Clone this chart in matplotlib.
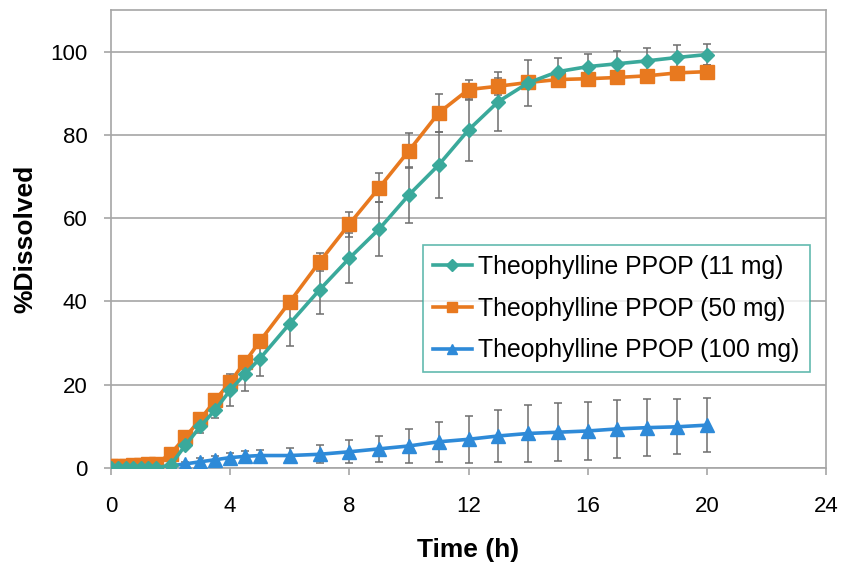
import matplotlib
matplotlib.use("Agg")
import matplotlib.pyplot as plt
from matplotlib.lines import Line2D

# sampling times (h)
time_h = [0, 0.25, 0.5, 0.75, 1, 1.25, 1.5, 2, 2.5, 3, 3.5, 4, 4.5, 5,
          6, 7, 8, 9, 10, 11, 12, 13, 14, 15, 16, 17, 18, 19, 20]

# 11 mg
teal_mean = [0, 0, 0, 0, 0, 0, 0, 0.7, 5.5, 10, 14, 18.7, 22.6, 26.3,
             34.7, 42.8, 50.4, 57.4, 65.6, 72.8, 81.2, 88, 92.5, 95.2,
             96.4, 97.1, 97.8, 98.6, 99.3]
teal_sd = [0, 0, 0, 0, 0, 0, 0, 0.5, 1, 1.5, 2, 3.8, 4, 4.3,
           5.3, 5.8, 6, 6.5, 6.8, 8, 7.5, 7, 5.6, 3.3,
           3, 3, 3, 3.1, 2.6]

# 50 mg
orange_mean = [0.6, 0.6, 0.6, 0.7, 0.8, 0.9, 1.0, 3.4, 7.5, 11.7, 16.3, 20.7, 25.5, 30.5,
               39.9, 49.5, 58.6, 67.3, 76.2, 85.3, 90.9, 91.7, 92.6, 93.3,
               93.5, 93.8, 94.2, 94.9, 95.2]
orange_sd = [0.3, 0.3, 0.3, 0.3, 0.3, 0.3, 0.3, 0.5, 0.8, 1, 1.2, 1.3, 1.5, 1.5,
             1.5, 2.2, 3, 3.5, 4.2, 4.5, 2.4, 2, 1.5, 1.5,
             1.5, 1.5, 1.5, 1.5, 1.5]

# 100 mg
blue_mean = [0, 0, 0, 0, 0, 0, 0, 0.5, 1.0, 1.5, 2.0, 2.5, 2.8, 3.0,
             3.0, 3.3, 3.9, 4.6, 5.3, 6.3, 6.9, 7.7, 8.3, 8.6,
             8.9, 9.4, 9.7, 9.9, 10.3]
blue_sd = [0, 0, 0, 0, 0, 0, 0, 0.3, 0.5, 1, 1, 1, 1.4, 1.4,
           1.8, 2.2, 2.8, 3.2, 4.0, 4.8, 5.6, 6.3, 6.8, 7.0,
           7.0, 6.9, 6.8, 6.6, 6.5]

labels = ["Theophylline PPOP (11 mg)", "Theophylline PPOP (50 mg)",
          "Theophylline PPOP (100 mg)"]
x_ticks = [0, 4, 8, 12, 16, 20, 24]
y_ticks = [0, 20, 40, 60, 80, 100]

teal = "#3aa99b"
orange = "#e8791f"
blue = "#2e8ad8"
grey = "#a6a6a6"

plt.rcParams['font.family'] = ['Liberation Sans', 'DejaVu Sans']

fig = plt.figure(figsize=(8.5, 5.63), dpi=100)
ax = fig.add_axes([0.1306, 0.1687, 0.8412, 0.8135])

series = [(blue_mean, blue_sd, blue, '^', 9.5),
          (orange_mean, orange_sd, orange, 's', 9.5),
          (teal_mean, teal_sd, teal, 'D', 7.5)]
for mean, sd, col, mk, ms in series:
    ax.errorbar(time_h, mean, yerr=sd, color=col, marker=mk, markersize=ms,
                linewidth=2.6, ecolor="#6e6e6e", elinewidth=1.1, capsize=3,
                capthick=1.1, zorder=3)

ax.set_xlim(0, 24)
ax.set_ylim(0, 110)
ax.set_xticks(x_ticks)
ax.set_yticks(y_ticks)
ax.yaxis.grid(True, color=grey, linewidth=1.2)
ax.set_axisbelow(True)
for s in ax.spines.values():
    s.set_color(grey)
    s.set_linewidth(1.2)
ax.tick_params(axis='both', color=grey, length=5, width=1.2)
ax.tick_params(axis='y', labelsize=16, pad=12)
ax.tick_params(axis='x', labelsize=16, pad=15)

ax.set_ylabel("%Dissolved", fontsize=19, fontweight='bold', labelpad=9)
ax.set_xlabel("Time (h)", fontsize=19, fontweight='bold', labelpad=15)

proxies = [Line2D([], [], color=teal, marker='D', markersize=6, linewidth=2.6),
           Line2D([], [], color=orange, marker='s', markersize=7, linewidth=2.6),
           Line2D([], [], color=blue, marker='^', markersize=7, linewidth=2.6)]
leg = ax.legend(proxies, labels, loc='upper left', bbox_to_anchor=(0.436, 0.487),
                fontsize=17.8, frameon=True, fancybox=False, edgecolor=teal,
                handlelength=1.6, handletextpad=0.25, borderpad=0.4,
                labelspacing=0.72, borderaxespad=0)
leg.get_frame().set_linewidth(1.2)

fig.savefig("out.png", dpi=100)
